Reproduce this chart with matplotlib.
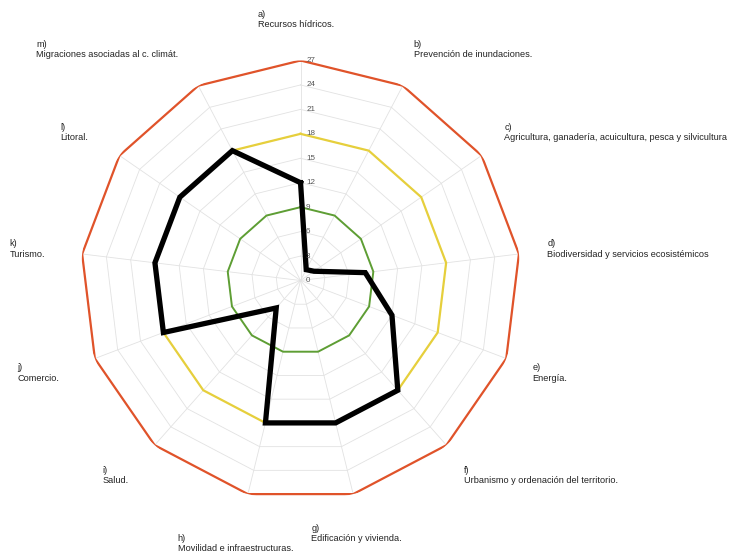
import numpy as np
import matplotlib
matplotlib.use("Agg")
import matplotlib.pyplot as plt

# Data
letters = ["a)", "b)", "c)", "d)", "e)", "f)", "g)", "h)", "i)", "j)", "k)", "l)", "m)"]
categories = [
    "Recursos hídricos.",
    "Prevención de inundaciones.",
    "Agricultura, ganadería, acuicultura, pesca y silvicultura",
    "Biodiversidad y servicios ecosistémicos",
    "Energía.",
    "Urbanismo y ordenación del territorio.",
    "Edificación y vivienda.",
    "Movilidad e infraestructuras.",
    "Salud.",
    "Comercio.",
    "Turismo.",
    "Litoral.",
    "Migraciones asociadas al c. climát.",
]
level_high = [27] * 13
level_mid = [18] * 13
level_low = [9] * 13
scores = [12, 1.5, 2, 8, 12, 18, 18, 18, 4.5, 18, 18, 18, 18]
rticks = [0, 3, 6, 9, 12, 15, 18, 21, 24, 27]

plt.rcParams['font.family'] = ['Liberation Sans', 'DejaVu Sans']

n = len(categories)
angles = np.linspace(0, 2 * np.pi, n, endpoint=False)
closed = np.append(angles, angles[0])

def close(vals):
    return np.append(vals, vals[0])

fig = plt.figure(figsize=(7.34, 5.55), dpi=100)
ax = fig.add_axes([0.1097, 0.0982, 0.5995, 0.7928], projection="polar")
ax.set_theta_offset(np.pi / 2)
ax.set_theta_direction(-1)
ax.set_ylim(0, 27)
ax.grid(False)
ax.spines['polar'].set_visible(False)
ax.set_xticks([])
ax.set_yticks([])

# polygon grid + spokes
for lv in rticks[1:]:
    ax.plot(closed, [lv] * (n + 1), color="#e2e2e2", lw=0.6, zorder=1)
for a in angles:
    ax.plot([a, a], [0, 27], color="#e2e2e2", lw=0.6, zorder=1)

# series
ax.plot(closed, close(level_high), color="#e0532a", lw=1.6, zorder=3)
ax.plot(closed, close(level_mid), color="#e6cf3c", lw=1.6, zorder=3)
ax.plot(closed, close(level_low), color="#5e9e34", lw=1.4, zorder=3)
ax.plot(closed, close(scores), color="black", lw=3.8, zorder=4, solid_joinstyle="miter")

# radial tick labels
for v in rticks:
    ax.annotate(str(v), (0, v), xytext=(4, 0), textcoords="offset points",
                ha="left", va="center", fontsize=5.8, color="#555555", zorder=5)

# category labels (Excel-like placement, a bit wider vertically)
rmax = 27
rx, ry = 31.05, 32.0
x_shift = -4.5 / 440
nudge_y = {7: -10 / 440}
for i, (a, let, cat) in enumerate(zip(angles, letters, categories)):
    s, c = np.sin(a), np.cos(a)
    if abs(s) < 0.3:
        ha = "center"
    elif s > 0:
        ha = "left"
    else:
        ha = "right"
    x = 0.5 + x_shift + 0.5 * rx / rmax * s
    y = 0.5 + 0.5 * ry / rmax * c + nudge_y.get(i, 0)
    ax.text(x, y, let + "\n" + cat, transform=ax.transAxes, ha=ha, va="center",
            multialignment="left", fontsize=6.6, color="#222222", clip_on=False,
            linespacing=1.2)

fig.savefig("out.png", dpi=100)
